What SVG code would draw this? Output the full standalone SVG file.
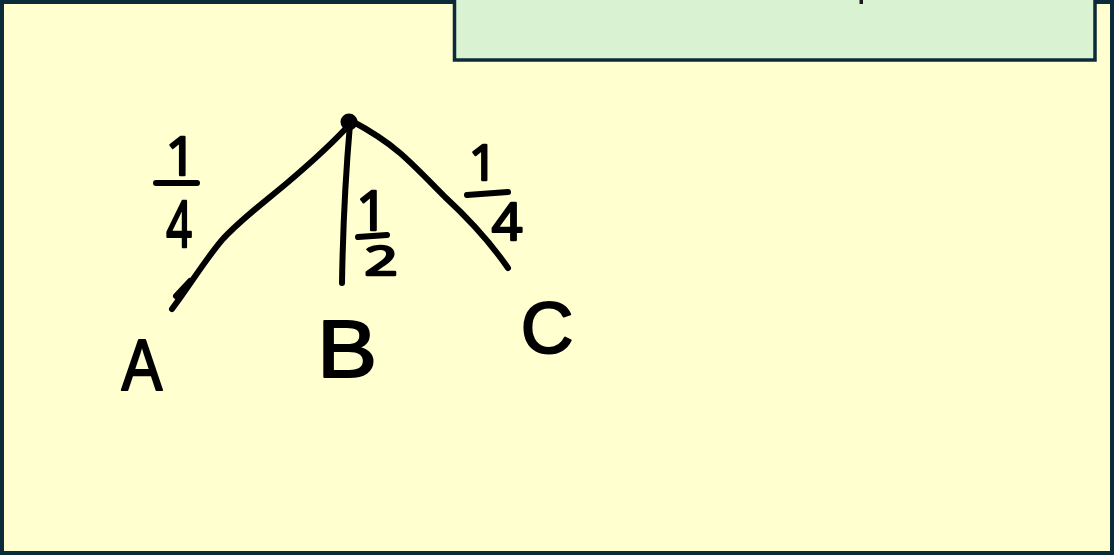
<svg xmlns="http://www.w3.org/2000/svg" width="1114" height="555" viewBox="0 0 1114 555">
<style>
.ink{fill:none;stroke:#000;stroke-width:6;stroke-linecap:round;stroke-linejoin:round}
.lbl{font-family:"Liberation Sans",Arial,sans-serif;fill:#000;stroke:#000;stroke-width:2;stroke-linejoin:round;text-anchor:middle}
.num{font-family:"Open Sans","Liberation Sans",sans-serif;fill:#000;stroke:#000;stroke-width:2.5;stroke-linejoin:round;text-anchor:middle}
</style>
<rect x="2" y="2" width="1110" height="551" fill="#ffffd0" stroke="#0b2a3a" stroke-width="4"/>
<g id="header">
<rect x="454.5" y="-40" width="640.5" height="100" fill="#d9f2d1" stroke="#0b2a3a" stroke-width="3.5"/>
<rect x="859.5" y="0" width="3.5" height="4" fill="#1a1a1a"/>
</g>
<g id="connectors">
<path class="ink" d="M350,124 C340,135 320,155 287,183 C262,204 240,220 222,240 C205,260 190,285 172,309"/>
<path class="ink" d="M176,296 L190,281"/>
<path class="ink" d="M350,124 C346,170 343,220 342,283"/>
<path class="ink" d="M350,120 C365,128 385,140 400,153 C415,166 430,182 445,197 C470,220 490,242 508,268"/>
</g>
<g id="root"><circle cx="349" cy="122" r="8.5" fill="#000"/></g>
<g id="label-left">
<text class="num" font-size="53" x="181" y="175">1</text>
<path class="ink" d="M156,183 L197,183"/>
<text class="num" font-size="64" transform="translate(179,247) scale(0.7,1)">4</text>
</g>
<g id="label-middle">
<text class="num" font-size="55" x="372" y="230">1</text>
<path class="ink" d="M358,237 L387,235"/>
<text class="num" font-size="40" transform="translate(381,275) scale(1.45,1)">2</text>
</g>
<g id="label-right">
<text class="num" font-size="49" x="483" y="180">1</text>
<path class="ink" d="M467,195 L508,192"/>
<text class="num" font-size="51" transform="translate(507,240) scale(1.05,1)">4</text>
</g>
<g id="node-A"><text class="lbl" font-size="72" transform="translate(142,390) scale(0.85,1)">A</text></g>
<g id="node-B"><text class="lbl" font-size="82" transform="translate(347,377) scale(1.1,1)">B</text></g>
<g id="node-C"><text class="lbl" font-size="73" x="547" y="353">C</text></g>
</svg>
